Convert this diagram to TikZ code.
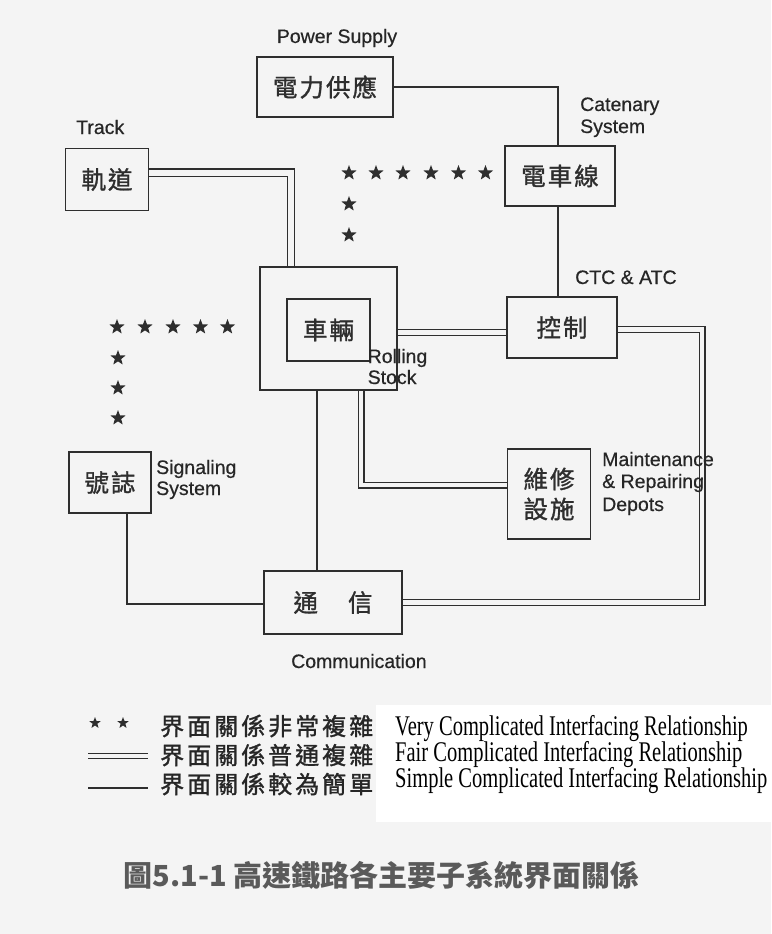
\documentclass[tikz,border=0pt]{standalone}
\usepackage{fontspec}
\usetikzlibrary{shapes.geometric,calc}
\newfontfamily\cjk[FakeBold=1.2]{Noto Sans CJK TC}
\newfontfamily\cjkcap{Noto Sans CJK TC}
\newfontfamily\lbl[FakeBold=0.5]{Liberation Sans}
\newfontfamily\eng[FakeStretch=0.72]{Liberation Serif}
\definecolor{bg}{HTML}{F4F4F4}
\definecolor{lc}{HTML}{2E2E2E}
\definecolor{tc}{HTML}{262626}
\definecolor{capc}{HTML}{5A5A5A}
\newcommand{\jg}{\hspace{2pt}}
\newcommand{\lgap}{\hspace{3pt}}
\pgfdeclarelayer{bgfill}
\pgfdeclarelayer{conn}
\pgfsetlayers{bgfill,conn,main}
\begin{document}
\begin{tikzpicture}[x=1pt,y=-1pt,
  box/.style={draw=lc, line width=1.4pt, inner sep=0pt, font=\cjk\fontsize{24.5}{30}\selectfont, text=lc, align=center},
  lab/.style={font=\lbl\fontsize{19.5}{22}\selectfont, text=tc, inner sep=0pt, anchor=base west},
  leg/.style={font=\cjk\fontsize{24}{26}\selectfont, text=tc, inner sep=0pt, anchor=west},
  engl/.style={font=\eng\fontsize{28.5}{26}\selectfont, text=black, inner sep=0pt, anchor=base west},
  simple/.style={draw=lc, line width=1.4pt},
  fair/.style={draw=lc, line width=1.3pt, double=bg, double distance=4.4pt},
  stardot/.style={star, star points=5, star point ratio=2.4, fill=lc, draw=none, minimum size=16pt, inner sep=0pt},
  ]
\useasboundingbox (0,0) rectangle (771,934);
\begin{pgfonlayer}{bgfill}
  \fill[bg] (0,0) rectangle (771,934);
  \fill[white] (376,705) rectangle (771,822);
\end{pgfonlayer}

% boxes
\node[box, minimum width=136pt, minimum height=60pt] (ps) at (325,87) {電\jg 力\jg 供\jg 應};
\node[box, minimum width=83pt, minimum height=62pt] (track) at (107,179.5) {軌\jg 道};
\node[box, minimum width=110pt, minimum height=60pt] (cat) at (560,176) {電\jg 車\jg 線};
\node[box, minimum width=137pt, minimum height=123pt] (rsout) at (328.5,328.5) {};
\node[box, minimum width=83pt, minimum height=62pt] (rsin) at (328.5,330) {車\jg 輛};
\node[box, minimum width=110pt, minimum height=61pt] (ctl) at (562,327.5) {控\jg 制};
\node[box, minimum width=82pt, minimum height=61pt] (sig) at (110,482.5) {號\jg 誌};
\node[box, minimum width=83pt, minimum height=90pt] (mt) at (549,494) {維\jg 修\\設\jg 施};
\node[box, minimum width=138pt, minimum height=63pt] (cm) at (333,602.5) {通\hspace{30pt}信};

% labels
\node[lab, anchor=base] (lps) at (337,43) {Power Supply};
\node[lab] (ltr) at (76,134) {Track};
\node[lab] (lcat1) at (580,111) {Catenary};
\node[lab] (lcat2) at (580,133) {System};
\node[lab] (lctc) at (575,284) {CTC \& ATC};
\node[lab] (lrs1) at (367.5,363) {Rolling};
\node[lab] (lrs2) at (367.5,384) {Stock};
\node[lab] (lsig1) at (156,474) {Signaling};
\node[lab] (lsig2) at (156,495) {System};
\node[lab] (lmt1) at (602,466) {Maintenance};
\node[lab] (lmt2) at (602,488) {\& Repairing};
\node[lab] (lmt3) at (602,511) {Depots};
\node[lab] (lcm) at (291,668) {Communication};

% stars
\foreach \x [count=\i] in {349,376,403,431,458.5,485.5}
  \node[stardot] (su\i) at (\x,173) {};
\node[stardot] (sv1) at (349,204) {};
\node[stardot] (sv2) at (349,235) {};
\foreach \x [count=\i] in {117,145,173,200.5,227.5}
  \node[stardot] (sl\i) at (\x,327) {};
\node[stardot] (sw1) at (118,358) {};
\node[stardot] (sw2) at (118,388) {};
\node[stardot] (sw3) at (118,418) {};

% connectors
\coordinate (rx) at (702,329.5);
\begin{pgfonlayer}{conn}
  \draw[simple] (ps.east) -| ([xshift=-2pt]cat.north);
  \draw[simple] ([xshift=-2pt]cat.south) -- ([xshift=-2pt]cat.south |- ctl.north);
  \draw[fair, double distance=6pt] ([yshift=7pt]track.east) -| ([xshift=-37.5pt]rsout.north);
  \draw[fair] ([yshift=-4pt]rsout.east) -- ([yshift=-4pt]rsout.east -| ctl.west);
  \draw[fair] (ctl.east |- rx) -- (rx) |- (cm.east);
  \draw[fair] ([xshift=32.5pt]rsout.south) |- ([yshift=9pt]mt.west);
  \draw[simple] ([xshift=-11.5pt]rsout.south) -- ([xshift=-11.5pt]rsout.south |- cm.north);
  \draw[simple] ([xshift=17pt]sig.south) |- ([yshift=-1.5pt]cm.west);
\end{pgfonlayer}

% legend
\node[stardot, minimum size=12pt] (ls1) at (95,723) {};
\node[stardot, minimum size=12pt] (ls2) at (123,723) {};
\coordinate (lfa) at (88,756);
\coordinate (lfb) at (148,756);
\draw[fair, line width=1.2pt, double distance=3.6pt] (lfa) -- (lfb);
\coordinate (lsa) at (88,788);
\coordinate (lsb) at (148,788);
\draw[simple] (lsa) -- (lsb);
\node[leg] (lz1) at (160,726) {界\lgap 面\lgap 關\lgap 係\lgap 非\lgap 常\lgap 複\lgap 雜};
\node[leg] (lz2) at (160,755) {界\lgap 面\lgap 關\lgap 係\lgap 普\lgap 通\lgap 複\lgap 雜};
\node[leg] (lz3) at (160,784) {界\lgap 面\lgap 關\lgap 係\lgap 較\lgap 為\lgap 簡\lgap 單};
\node[engl] (le1) at (395,735) {Very Complicated Interfacing Relationship};
\node[engl] (le2) at (395,761) {Fair Complicated Interfacing Relationship};
\node[engl] (le3) at (395,787) {Simple Complicated Interfacing Relationship};

% caption
\node[font=\cjkcap\bfseries\fontsize{29}{32}\selectfont, text=capc, inner sep=0pt] (cap) at (381.5,875) {圖5.1-1 高速鐵路各主要子系統界面關係};
\end{tikzpicture}
\end{document}
